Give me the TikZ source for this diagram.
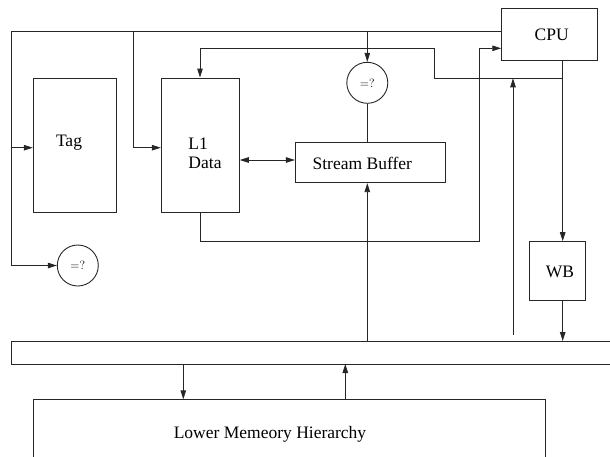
\documentclass[tikz,border=0pt]{standalone}
\usepackage{fontspec}
\newfontfamily\tms{Liberation Serif}
\usetikzlibrary{arrows.meta}
\tikzset{
  wire/.style={draw=black!85, line width=0.9pt},
  tip/.style={-{Triangle[length=9pt,width=5.5pt]}},
  twotip/.style={{Triangle[length=9pt,width=5.5pt]}-{Triangle[length=9pt,width=5.5pt]}},
  blk/.style={draw=black!85, line width=0.9pt, rectangle, inner sep=0pt, font=\tms\fontsize{17.5}{19}\selectfont},
  cmpnode/.style={draw=black!85, line width=0.9pt, circle, minimum size=41pt, inner sep=0pt, font=\fontsize{12}{13}\selectfont},
  lbl/.style={font=\tms\fontsize{17.5}{19}\selectfont, inner sep=0pt}
}
\begin{document}
\begin{tikzpicture}[x=1pt, y=-1pt]
\useasboundingbox (0,0) rectangle (610,456);

% blocks
\node[blk, minimum width=83.4pt, minimum height=134pt] (tag) at (75,145) {};
\node[lbl] (tagtxt) at (69,143) {Tag};
\node[blk, minimum width=78pt, minimum height=134pt] (l1) at (200.3,145) {};
\node[lbl, align=left] (l1txt) at (205,153) {L1\\Data};
\node[blk, minimum width=149.7pt, minimum height=40.4pt] (sb) at (370.2,162.5) {};
\node[lbl] (sbtxt) at (362.3,163) {Stream Buffer};
\node[blk, minimum width=95.6pt, minimum height=52.3pt] (cpu) at (549.5,34.2) {};
\node[lbl] (cputxt) at (551.7,35) {CPU};
\node[blk, minimum width=56pt, minimum height=58.3pt] (wb) at (557,270.8) {};
\node[lbl] (wbtxt) at (560,272) {WB};
\node[cmpnode] (cmp1) at (367.3,82.8) {=?};
\node[cmpnode] (cmp2) at (77.8,265.5) {=?};

% bus (open to the right) and lower memory block (open at the bottom)
\coordinate (busTL) at (11,341);
\coordinate (busBL) at (11,364);
\draw[wire] (625,341) -- (busTL) -- (busBL) -- (625,364);
\coordinate (lowTL) at (33.3,399.3);
\coordinate (lowTR) at (545.7,399.3);
\draw[wire] (33.3,470) -- (lowTL) -- (lowTR) -- (545.7,470);
\node[lbl] (lowtxt) at (270,434) {Lower Memeory Hierarchy};

% address bus from the CPU
\coordinate (aR) at (cpu.west |- 0,31.7);
\coordinate (aL) at (11,31.7);
\coordinate (aB) at (11,265.5);
\coordinate (aT) at (11,147.7);
\coordinate (aD1) at (133.3,31.7);
\coordinate (aD2) at (133.3,147.7);
\coordinate (aS) at (367.3,31.7);
\draw[wire] (aR) -- (aL) -- (aB);
\draw[wire, tip] (aB) -- (cmp2.west);
\draw[wire, tip] (aT) -- (tag.west |- aT);
\draw[wire, tip] (aD1) -- (aD2) -- (l1.west |- aD2);
\draw[wire, tip] (aS) -- (cmp1.north);
\draw[wire] (cmp1.south) -- (sb.north -| cmp1.south);

% L1 <-> stream buffer
\draw[wire, twotip] (l1.east |- 0,160) -- (sb.west |- 0,160);

% CPU data out: to write buffer and back into L1
\coordinate (cO) at (562.7,60.3);
\coordinate (cJ) at (562.7,78.3);
\coordinate (cK) at (434.3,78.3);
\coordinate (cM) at (434.3,48);
\coordinate (cN) at (200,48);
\draw[wire, tip] (cO) -- (wb.north -| cO);
\draw[wire, tip] (cJ) -- (cK) -- (cM) -- (cN) -- (l1.north -| cN);

% L1 data to the CPU
\coordinate (dA) at (200,212);
\coordinate (dB) at (200,241.7);
\coordinate (dC) at (479.7,241.7);
\coordinate (dD) at (479.7,48.3);
\draw[wire, tip] (dA) -- (dB) -- (dC) -- (dD) -- (cpu.west |- dD);

% bus connections
\coordinate (bS) at (367.3,341);
\draw[wire, tip] (bS) -- (sb.south -| bS);
\coordinate (bU) at (513,335);
\draw[wire, tip] (bU) -- (513,78.3);
\draw[wire, tip] (wb.south -| cO) -- (562.7,341);
\coordinate (bD) at (183.3,364);
\draw[wire, tip] (bD) -- (lowTL -| bD);
\coordinate (bE) at (345.3,399.3);
\draw[wire, tip] (bE) -- (345.3,364);
\end{tikzpicture}
\end{document}
